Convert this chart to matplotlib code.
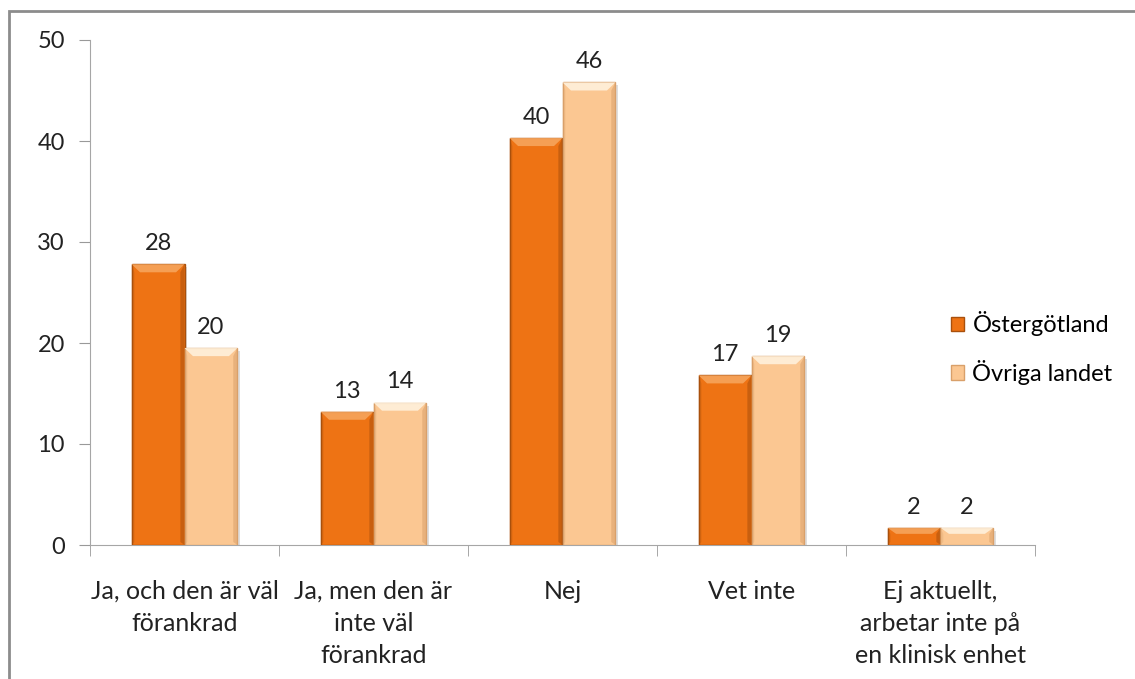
import matplotlib.pyplot as plt
import numpy as np
from matplotlib.patches import Rectangle, Polygon, Patch

categories = ["Ja, och den är väl\nförankrad", "Ja, men den är\ninte väl\nförankrad", "Nej", "Vet inte", "Ej aktuellt,\narbetar inte på\nen klinisk enhet"]
series_names = ["Östergötland", "Övriga landet"]
ost = [27.8, 13.2, 40.3, 16.8, 1.7]
ovr = [19.5, 14.1, 45.8, 18.7, 1.7]
ost_labels = ["28", "13", "40", "17", "2"]
ovr_labels = ["20", "14", "46", "19", "2"]
yticks = [0, 10, 20, 30, 40, 50]

plt.rcParams['font.family'] = ['Lato', 'DejaVu Sans']

W, H = 1135, 679
fig = plt.figure(figsize=(W/100, H/100), dpi=100)
fig.patches.append(Rectangle((9/W, -0.1), 1.2, 1 - 11/H + 0.1, transform=fig.transFigure,
                             fill=False, edgecolor='#8c8c8c', linewidth=2))
ax = fig.add_axes([90/W, 1 - 545/H, (1035-90)/W, (545-40)/H])

x = np.arange(len(categories))
bw = 0.28
cols = ['#EE7314', '#FBC792']
edges = ['#A9500C', '#D9A06A']
tops = ['#F7A860', '#FFF3E0']

for vals, off, c, ec, tc in [(ost, -bw/2, cols[0], edges[0], tops[0]), (ovr, bw/2, cols[1], edges[1], tops[1])]:
    bars = ax.bar(x + off, vals, bw, color=c, edgecolor=ec, linewidth=1.0, zorder=3)
    for b in bars:
        x0, w, h = b.get_x(), b.get_width(), b.get_height()
        ax.add_patch(Rectangle((x0 + 0.012, -0.3), w, h, color='#000000', alpha=0.13, zorder=2, linewidth=0))
        bev = min(0.8, h * 0.35)
        ax.add_patch(Polygon([[x0, h], [x0 + w, h], [x0 + w - 0.045, h - bev], [x0 + 0.045, h - bev]],
                             closed=True, color=tc, alpha=0.85, zorder=4, linewidth=0))
        ax.add_patch(Polygon([[x0 + w, h], [x0 + w, 0], [x0 + w - 0.022, 0.3], [x0 + w - 0.022, h - bev]],
                             closed=True, color=ec, alpha=0.55, zorder=4, linewidth=0))
        ax.add_patch(Polygon([[x0, h], [x0, 0], [x0 + 0.015, 0.3], [x0 + 0.015, h - bev]],
                             closed=True, color=ec, alpha=0.3, zorder=4, linewidth=0))

for i in range(len(categories)):
    ax.text(x[i] - bw/2, ost[i] + 1.0, ost_labels[i], ha='center', va='bottom', fontsize=17, color='#222222')
    ax.text(x[i] + bw/2, ovr[i] + 1.0, ovr_labels[i], ha='center', va='bottom', fontsize=17, color='#222222')

ax.set_xlim(-0.5, len(categories) - 0.5)
ax.set_ylim(0, 50)
ax.set_yticks(yticks)
ax.set_yticklabels([str(t) for t in yticks], fontsize=17, color='#222222')
ax.set_xticks(x)
ax.set_xticklabels(categories, fontsize=18, color='#222222', linespacing=1.47)
ax.set_xticks(np.arange(len(categories) + 1) - 0.5, minor=True)
ax.tick_params(axis='x', which='major', length=0, pad=25)
ax.tick_params(axis='x', which='minor', length=8, color='#999999', direction='out')
ax.tick_params(axis='y', length=8, color='#999999', pad=10)
for s in ['top', 'right']:
    ax.spines[s].set_visible(False)
ax.spines['left'].set_color('#a6a6a6')
ax.spines['bottom'].set_color('#a6a6a6')

handles = [Patch(facecolor=cols[0], edgecolor=edges[0]), Patch(facecolor=cols[1], edgecolor=edges[1])]
fig.legend(handles, series_names, loc='center left', bbox_to_anchor=(930/W, 1 - 348/H), frameon=False,
           fontsize=17, handlelength=0.55, handleheight=0.55, handletextpad=0.35, labelspacing=1.0)

fig.savefig('out.png', dpi=100)
